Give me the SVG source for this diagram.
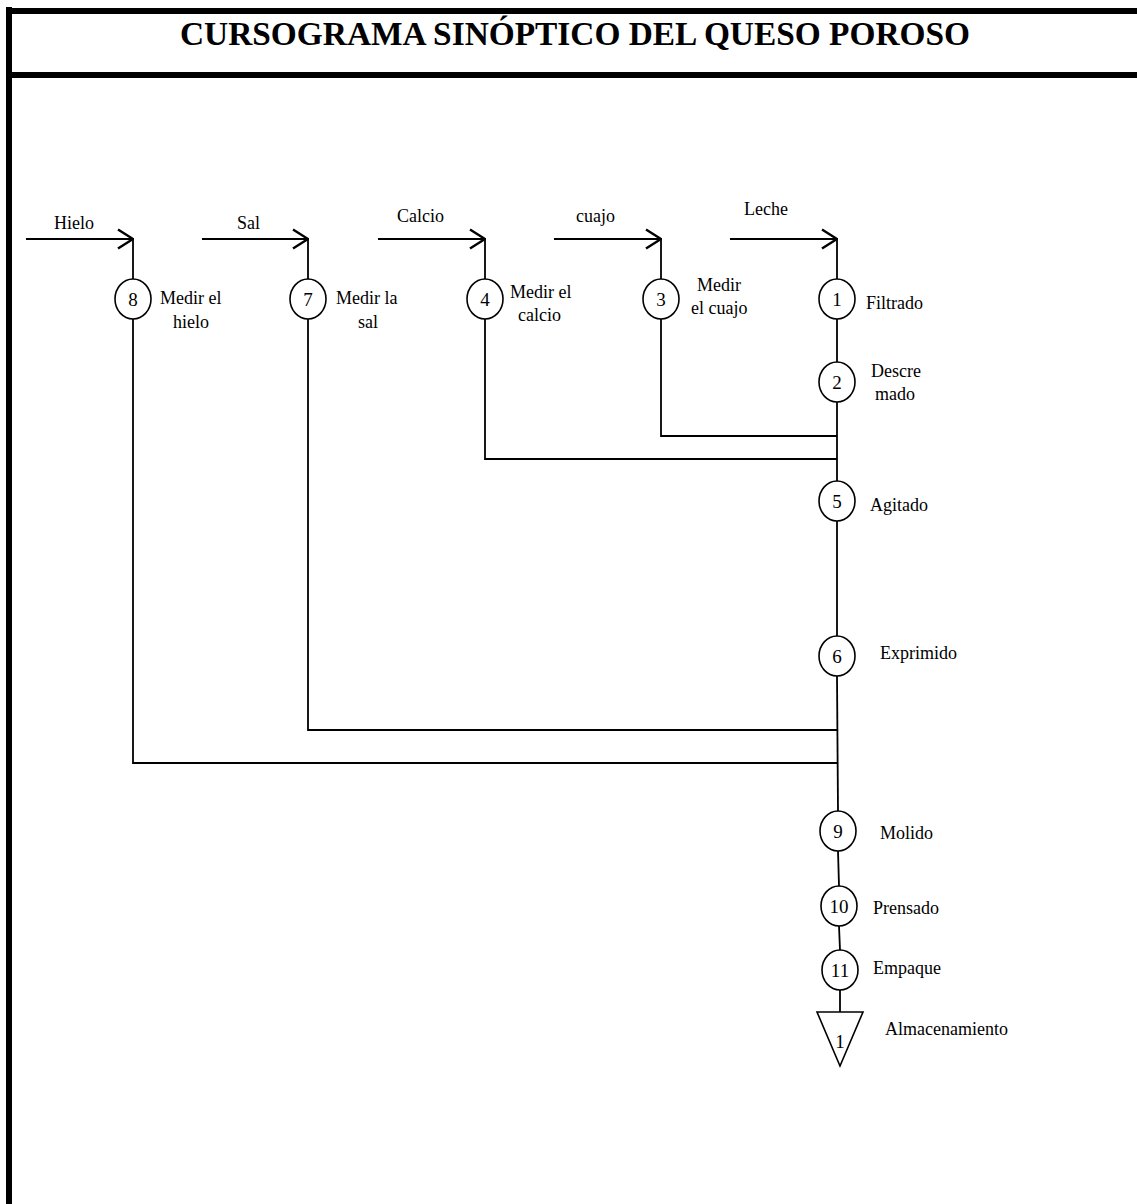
<svg xmlns="http://www.w3.org/2000/svg" width="1137" height="1204" viewBox="0 0 1137 1204">
  <style>
    .frame { fill: #000; }
    .title { font-family: "Liberation Serif", "DejaVu Serif", serif; font-weight: bold; font-size: 33px; fill: #000; }
    .lbl { font-family: "Liberation Serif", "DejaVu Serif", serif; font-size: 18px; fill: #000; }
    .num { font-family: "Liberation Serif", "DejaVu Serif", serif; font-size: 19px; fill: #000; text-anchor: middle; }
    .op { fill: #fff; stroke: #000; stroke-width: 1.6; }
    .ln { fill: none; stroke: #000; stroke-width: 1.8; }
  </style>
  <defs>
    <marker id="chev" viewBox="0 0 17 22" markerWidth="17" markerHeight="22" refX="16" refY="11" orient="auto" markerUnits="userSpaceOnUse">
      <path d="M1,1.5 L16,11 L1,20.5" fill="none" stroke="#000" stroke-width="2.4"/>
    </marker>
  </defs>
  <rect width="1137" height="1204" fill="#fff"/>

  <!-- page frame and title band -->
  <rect class="frame" x="6" y="7" width="6" height="1197"/>
  <rect class="frame" x="6" y="8" width="1131" height="6"/>
  <rect class="frame" x="6" y="72" width="1131" height="6"/>
  <text class="title" x="180" y="45" textLength="790" lengthAdjust="spacingAndGlyphs">CURSOGRAMA SINÓPTICO DEL QUESO POROSO</text>

  <!-- connectors -->
  <g id="connectors">
    <!-- inputs -->
    <line class="ln" x1="26" y1="239" x2="133" y2="239" marker-end="url(#chev)"/>
    <line class="ln" x1="202" y1="239" x2="308" y2="239" marker-end="url(#chev)"/>
    <line class="ln" x1="378" y1="239" x2="485" y2="239" marker-end="url(#chev)"/>
    <line class="ln" x1="554" y1="239" x2="661" y2="239" marker-end="url(#chev)"/>
    <line class="ln" x1="730" y1="239" x2="837" y2="239" marker-end="url(#chev)"/>
    <!-- drops into the first operations -->
    <line class="ln" x1="133" y1="238" x2="133" y2="279"/>
    <line class="ln" x1="308" y1="238" x2="308" y2="279"/>
    <line class="ln" x1="485" y1="238" x2="485" y2="279"/>
    <line class="ln" x1="661" y1="238" x2="661" y2="279"/>
    <line class="ln" x1="837" y1="238" x2="837" y2="279"/>
    <!-- feed lines joining the main flow -->
    <polyline class="ln" points="661,319 661,436 837,436"/>
    <polyline class="ln" points="485,319 485,459 837,459"/>
    <polyline class="ln" points="308,319 308,730 837,730"/>
    <polyline class="ln" points="133,319 133,763 837,763"/>
    <!-- main flow -->
    <line class="ln" x1="837" y1="319" x2="837" y2="362"/>
    <line class="ln" x1="837" y1="402" x2="837" y2="481"/>
    <line class="ln" x1="837" y1="521" x2="837" y2="636"/>
    <line class="ln" x1="837" y1="676" x2="838" y2="811"/>
    <line class="ln" x1="838" y1="851" x2="839" y2="886"/>
    <line class="ln" x1="839" y1="926" x2="840" y2="950"/>
    <line class="ln" x1="840" y1="990" x2="840" y2="1012"/>
  </g>

  <!-- input labels -->
  <text class="lbl" x="54" y="229">Hielo</text>
  <text class="lbl" x="237" y="229">Sal</text>
  <text class="lbl" x="397" y="222">Calcio</text>
  <text class="lbl" x="576" y="222">cuajo</text>
  <text class="lbl" x="744" y="215">Leche</text>

  <!-- operations -->
  <g id="op8">
    <ellipse class="op" cx="133" cy="299" rx="18" ry="20"/>
    <text class="num" x="133" y="306">8</text>
    <text class="lbl" x="160" y="304">Medir el</text>
    <text class="lbl" x="173" y="328">hielo</text>
  </g>
  <g id="op7">
    <ellipse class="op" cx="308" cy="299" rx="18" ry="20"/>
    <text class="num" x="308" y="306">7</text>
    <text class="lbl" x="336" y="304">Medir la</text>
    <text class="lbl" x="358" y="328">sal</text>
  </g>
  <g id="op4">
    <ellipse class="op" cx="485" cy="299" rx="18" ry="20"/>
    <text class="num" x="485" y="306">4</text>
    <text class="lbl" x="510" y="298">Medir el</text>
    <text class="lbl" x="518" y="321">calcio</text>
  </g>
  <g id="op3">
    <ellipse class="op" cx="661" cy="299" rx="18" ry="20"/>
    <text class="num" x="661" y="306">3</text>
    <text class="lbl" x="697" y="291">Medir</text>
    <text class="lbl" x="691" y="314">el cuajo</text>
  </g>
  <g id="op1">
    <ellipse class="op" cx="837" cy="299" rx="18" ry="20"/>
    <text class="num" x="837" y="306">1</text>
    <text class="lbl" x="866" y="309">Filtrado</text>
  </g>
  <g id="op2">
    <ellipse class="op" cx="837" cy="382" rx="18" ry="20"/>
    <text class="num" x="837" y="389">2</text>
    <text class="lbl" x="871" y="377">Descre</text>
    <text class="lbl" x="875" y="400">mado</text>
  </g>
  <g id="op5">
    <ellipse class="op" cx="837" cy="501" rx="18" ry="20"/>
    <text class="num" x="837" y="508">5</text>
    <text class="lbl" x="870" y="511">Agitado</text>
  </g>
  <g id="op6">
    <ellipse class="op" cx="837" cy="656" rx="18" ry="20"/>
    <text class="num" x="837" y="663">6</text>
    <text class="lbl" x="880" y="659">Exprimido</text>
  </g>
  <g id="op9">
    <ellipse class="op" cx="838" cy="831" rx="18" ry="20"/>
    <text class="num" x="838" y="838">9</text>
    <text class="lbl" x="880" y="839">Molido</text>
  </g>
  <g id="op10">
    <ellipse class="op" cx="839" cy="906" rx="18" ry="20"/>
    <text class="num" x="839" y="913">10</text>
    <text class="lbl" x="873" y="914">Prensado</text>
  </g>
  <g id="op11">
    <ellipse class="op" cx="840" cy="970" rx="18" ry="20"/>
    <text class="num" x="840" y="977">11</text>
    <text class="lbl" x="873" y="974">Empaque</text>
  </g>
  <g id="store1">
    <polygon class="op" points="817,1012 863,1012 840,1066"/>
    <text class="num" x="840" y="1048">1</text>
    <text class="lbl" x="885" y="1035">Almacenamiento</text>
  </g>
</svg>
